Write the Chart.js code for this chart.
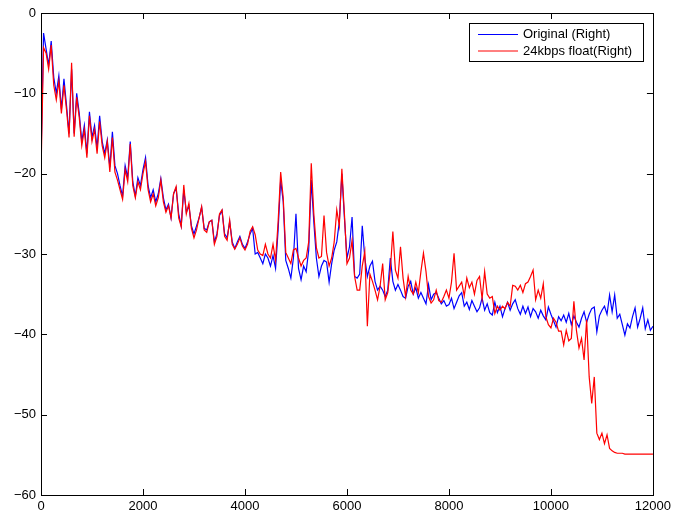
<!DOCTYPE html>
<html>
<head>
<meta charset="utf-8">
<script src="https://cdn.jsdelivr.net/npm/chart.js@4"></script>
<style>
  html, body { margin: 0; padding: 0; background: #fff; }
  #wrap { width: 675px; height: 515px; }
</style>
</head>
<body>
<div id="wrap"><canvas id="spec" width="675" height="515"></canvas></div>
<script>
// spectrum magnitude (dB), one value per 50 Hz bin, 0 .. 12000 Hz
var freqStep = 50;

var originalRight = [
  -18.5, -2.5, -4.5, -6.5, -3.5, -8, -10, -7.8, -12, -8.2, -11.5, -15, -7, -15, -10, -12.5, -16, -14, -17.5, -12.3,
  -15.5, -14, -16.8, -12.8, -16, -17.5, -15.8, -19.2, -14.8, -19, -20, -21.5, -22.8, -19, -20.5, -16, -21, -22.8, -20.5, -21.5,
  -19.5, -18, -21.5, -23, -22, -23.5, -22.5, -20.6, -23, -24.5, -23.8, -25.5, -22.5, -21.8, -25, -26.5, -22, -24.8, -24, -26.5,
  -27.5, -26.5, -25.5, -24.2, -26.8, -27, -26, -25.8, -28.5, -27.5, -25.2, -24.6, -27.5, -28, -26, -28.5, -29.3, -28.5, -27.8, -28.8,
  -29.3, -28.5, -27.5, -26.8, -30, -29.8, -30.5, -31.2, -30, -30.5, -31.5, -30.2, -31.8, -27, -20.8, -23.5, -30.8, -31.8, -33, -30.5,
  -25, -31.8, -33.2, -31.5, -32.2, -29.5, -20.8, -26, -30.5, -32.8, -31.5, -30.8, -31, -33.5, -31.2, -29.5, -28.5, -26, -20, -25.5,
  -30.5, -29.1, -25.4, -32.8, -33, -32.5, -26.5, -30.5, -32.8, -31.5, -30.9, -33.4, -34.5, -34, -34.5, -35.3, -34.5, -30.5, -33.4, -34.5,
  -33.8, -34.5, -35.3, -35.5, -34, -33.4, -35, -34.2, -35.5, -34.8, -35.5, -36.2, -33.8, -35.7, -35, -34.8, -35.5, -36.2, -35.8, -36.5,
  -36.3, -35.5, -36.8, -36, -35.2, -34.8, -36.5, -36, -36.9, -35.8, -36.5, -37.2, -36.7, -35.5, -37, -36.2, -37.3, -37.6, -36, -37.3,
  -36.5, -37.8, -36.8, -36, -37, -36.2, -35.7, -36.8, -37.5, -36.5, -37.4, -36.6, -37.8, -36.8, -37.2, -38, -37, -37.7, -38.2, -36.6,
  -37.5, -38.3, -39.1, -37.8, -38.3, -37.6, -38.5, -37.4, -38.8, -37.7, -38.5, -39.1, -38, -37.2, -38.5, -37.5, -36.8, -36.6, -39.7, -37.7,
  -37, -36.5, -37.5, -35.1, -37.2, -35.1, -38, -37.5, -38.8, -40.1, -38.7, -39.2, -37.8, -36.7, -39.1, -38, -36.7, -39.3, -38.2, -39.5,
  -39
];

var coded24kRight = [
  -20, -4.3, -5, -7, -4, -9, -10.8, -8.5, -12.5, -9, -12, -15.5, -6.2, -15.4, -10.5, -13, -16.5, -14.5, -18, -12.8,
  -16, -14.5, -17.5, -13.5, -16.5, -18, -16, -19.8, -15.5, -19.8, -20.8, -22, -23.2, -19.5, -21, -16.3, -21.5, -23, -21, -22,
  -20, -18.5, -22, -23.5, -22.5, -24, -23, -20.8, -23.5, -24.8, -24, -25.5, -22.5, -21.6, -25.5, -26.6, -21.4, -25, -23.7, -26.8,
  -28, -27, -25.5, -24.1, -27, -27.3, -26, -25.8, -28.8, -27.8, -25, -24.5, -27.8, -28.3, -25.8, -28.8, -29.4, -28.8, -28, -29,
  -29.5, -28.8, -27.2, -26.6, -27.6, -29.5, -30, -30.2, -28.8, -30, -30.5, -28.8, -30.8, -26, -19.8, -23, -29.8, -30.5, -31.2, -29.5,
  -29.3, -30.5, -31.5, -30.8, -30.5, -28.5, -18.7, -25, -29.2, -30.5, -30.3, -25.2, -29.8, -31.5, -30.5, -28.5, -24.5, -26.5, -19.4, -25,
  -31.2, -30.5, -28.3, -32.8, -34.5, -34.5, -31.5, -29.7, -39, -32.5, -33.4, -34.5, -35.7, -34, -31.2, -35.7, -34.8, -32, -27.2, -32,
  -33, -29.1, -33, -35.3, -32.8, -34.5, -35, -33.5, -34.8, -32.2, -29.9, -32.2, -35.3, -36.1, -35.7, -34.5, -35.8, -36, -35.3, -34.5,
  -35.5, -33.5, -29.9, -34.5, -34, -33.5, -35.2, -33, -34.2, -33.5, -35, -33.3, -32.8, -35.6, -32.2, -35, -35.5, -35.3, -37.4, -36.5,
  -37, -36.5, -36.8, -36, -36.5, -33.9, -34, -34.5, -33.9, -34.8, -33.7, -33.5, -32.8, -32, -35.7, -34.5, -35.5, -33.7, -37.8, -38.8,
  -39.2, -38, -38.5, -39.6, -39.6, -41.3, -39.5, -40.8, -40.5, -35.9, -39.5, -41.7, -40.5, -43.2, -38.2, -45.3, -48.6, -45.3, -52.3, -53.1,
  -52.3, -53.6, -52.5, -54.2, -54.5, -54.7, -54.8, -54.8, -54.8, -54.9, -54.9, -54.9, -54.9, -54.9, -54.9, -54.9, -54.9, -54.9, -54.9, -54.9,
  -54.9
];

var xTicks = [0, 2000, 4000, 6000, 8000, 10000, 12000];
var yTicks = [0, -10, -20, -30, -40, -50, -60];

function toPoints(vals) {
  return vals.map(function (v, i) { return { x: i * freqStep, y: v }; });
}

// matlab look: box on all four sides, inward ticks, legend in the corner
var matlabBox = {
  id: "matlabBox",
  afterDatasetsDraw: function (chart) {
    var ctx = chart.ctx, a = chart.chartArea;
    var xs = chart.scales.x, ys = chart.scales.y;
    ctx.save();
    ctx.strokeStyle = "#000";
    ctx.lineWidth = 1;
    ctx.beginPath();
    xTicks.forEach(function (t) {
      var px = Math.round(xs.getPixelForValue(t)) + 0.5;
      ctx.moveTo(px, a.bottom); ctx.lineTo(px, a.bottom - 6);
      ctx.moveTo(px, a.top); ctx.lineTo(px, a.top + 6);
    });
    yTicks.forEach(function (t) {
      var py = Math.round(ys.getPixelForValue(t)) + 0.5;
      ctx.moveTo(a.left, py); ctx.lineTo(a.left + 6, py);
      ctx.moveTo(a.right, py); ctx.lineTo(a.right - 6, py);
    });
    ctx.stroke();
    ctx.strokeRect(Math.round(a.left) + 0.5, Math.round(a.top) + 0.5,
      Math.round(a.right - a.left), Math.round(a.bottom - a.top));

    // legend
    var bx = 469.5, by = 23.5, bw = 174, bh = 38;
    ctx.fillStyle = "#fff";
    ctx.fillRect(bx, by, bw, bh);
    ctx.strokeRect(bx, by, bw, bh);
    ctx.font = "13px 'Liberation Sans', Arial, sans-serif";
    ctx.textBaseline = "middle";
    chart.data.datasets.slice().reverse().forEach(function (ds, i) {
      var ly = 34.5 + i * 16.5;
      ctx.strokeStyle = ds.borderColor;
      ctx.beginPath();
      ctx.moveTo(478, ly); ctx.lineTo(518, ly);
      ctx.stroke();
      ctx.fillStyle = "#000";
      ctx.fillText(ds.label, 523, ly);
    });
    ctx.restore();
  }
};

new Chart(document.getElementById("spec").getContext("2d"), {
  type: "line",
  data: {
    datasets: [{
      label: "24kbps float(Right)",
      data: toPoints(coded24kRight),
      borderColor: "#ff0000",
      borderWidth: 1.2,
      pointRadius: 0,
      tension: 0,
      order: 1
    }, {
      label: "Original (Right)",
      data: toPoints(originalRight),
      borderColor: "#0000ff",
      borderWidth: 1.2,
      pointRadius: 0,
      tension: 0,
      order: 2
    }]
  },
  options: {
    responsive: false,
    animation: false,
    layout: { padding: { top: 13, right: 21, left: 0, bottom: 0 } },
    scales: {
      x: {
        type: "linear",
        min: 0,
        max: 12000,
        afterFit: function (s) { s.height = 20; },
        afterBuildTicks: function (s) { s.ticks = xTicks.map(function (v) { return { value: v }; }); },
        grid: { display: false, drawTicks: false },
        border: { display: false },
        ticks: {
          padding: 4,
          maxRotation: 0,
          autoSkip: false,
          color: "#000",
          font: { family: "'Liberation Sans', Arial, sans-serif", size: 13 },
          callback: function (v) { return String(v); }
        }
      },
      y: {
        min: -60,
        max: 0,
        afterFit: function (s) { s.width = 41; },
        afterBuildTicks: function (s) { s.ticks = yTicks.map(function (v) { return { value: v }; }); },
        grid: { display: false, drawTicks: false },
        border: { display: false },
        ticks: {
          padding: 5,
          autoSkip: false,
          color: "#000",
          font: { family: "'Liberation Sans', Arial, sans-serif", size: 13 },
          callback: function (v) { return v < 0 ? "\u2212" + Math.abs(v) : String(v); }
        }
      }
    },
    plugins: {
      legend: { display: false },
      tooltip: { enabled: false }
    }
  },
  plugins: [matlabBox]
});
</script>
</body>
</html>
